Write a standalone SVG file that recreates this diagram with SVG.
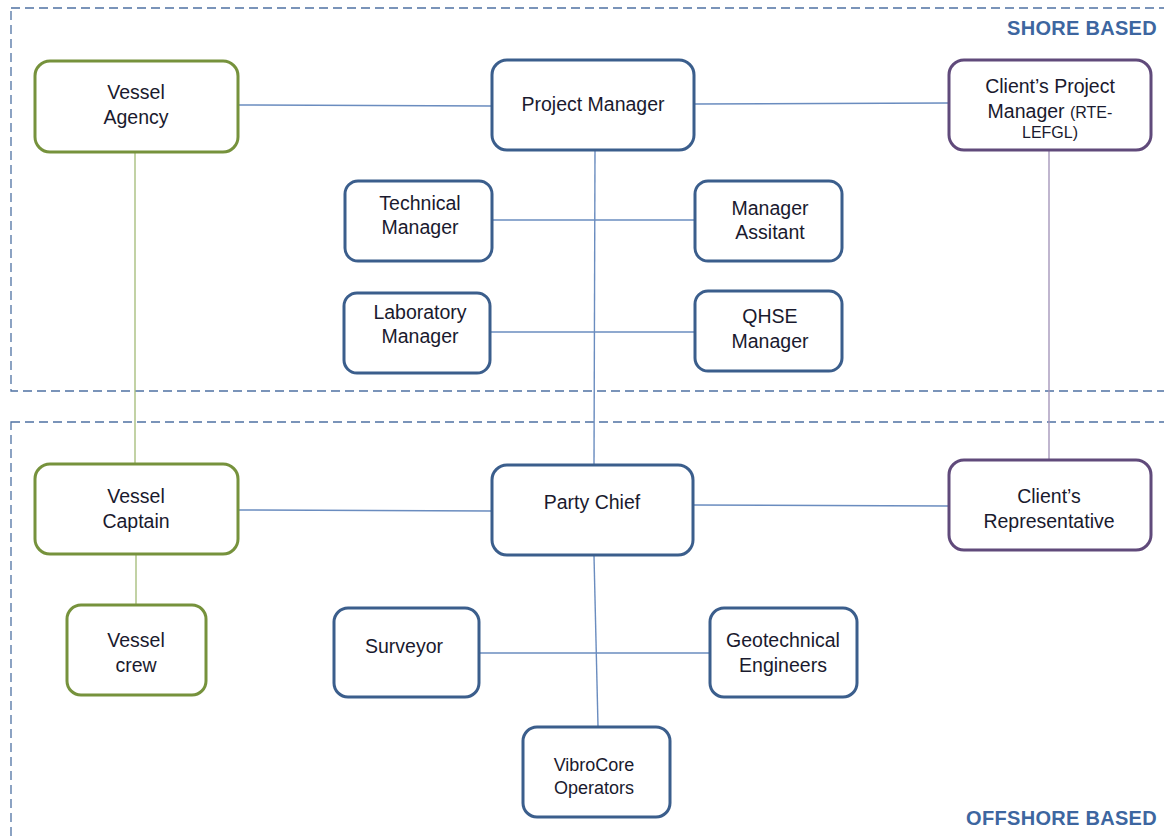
<svg xmlns="http://www.w3.org/2000/svg" width="1164" height="837" viewBox="0 0 1164 837">
<style>
.zone{fill:none;stroke:#4f72a3;stroke-width:1.3;stroke-dasharray:9 5}
.zl{font-family:"Liberation Sans",Arial,sans-serif;font-weight:bold;font-size:20px;fill:#3d66a0;text-anchor:end;letter-spacing:0.3px}
.n rect{fill:#fff;stroke-width:3}
.g rect{stroke:#76923c}
.b rect{stroke:#3b5e8c}
.p rect{stroke:#604a7b}
.n text{font-family:"Liberation Sans",Arial,sans-serif;font-size:19.5px;fill:#1a1a2e;text-anchor:middle}
.n text.s{font-size:16px}
.n text.m{font-size:18px}
.n .xs{font-size:16px}
.c line{stroke-width:1.4}
.cb{stroke:#6a8cbf}
.cg{stroke:#a8bf7f}
.cp{stroke:#a597bb}
</style>
<rect width="1164" height="837" fill="#fff"/>
<rect class="zone" x="11" y="8" width="1170" height="383"/>
<rect class="zone" x="11" y="422" width="1170" height="430"/>
<text class="zl" x="1157" y="35">SHORE  BASED</text>
<text class="zl" x="1157" y="825">OFFSHORE  BASED</text>
<g class="c" id="connectors">
<line class="cb" x1="238" y1="105" x2="491" y2="106"/>
<line class="cb" x1="695" y1="104" x2="948" y2="103"/>
<line class="cb" x1="595" y1="150" x2="594" y2="464"/>
<line class="cb" x1="493" y1="220" x2="694" y2="220"/>
<line class="cb" x1="491" y1="332" x2="694" y2="332"/>
<line class="cg" x1="135" y1="152" x2="135" y2="463"/>
<line class="cp" x1="1049" y1="150" x2="1049" y2="459"/>
<line class="cb" x1="239" y1="510" x2="491" y2="511"/>
<line class="cb" x1="694" y1="505" x2="948" y2="506"/>
<line class="cg" x1="136" y1="555" x2="136" y2="604"/>
<line class="cb" x1="594" y1="556" x2="598" y2="726"/>
<line class="cb" x1="480" y1="653" x2="709" y2="653"/>
</g>
<g id="vessel-agency" class="n g"><rect x="35" y="61" width="203" height="91" rx="15"/><text x="136" y="99">Vessel</text><text x="136" y="124">Agency</text></g>
<g id="project-manager" class="n b"><rect x="492" y="60" width="202" height="90" rx="15"/><text x="593" y="111">Project Manager</text></g>
<g id="client-pm" class="n p"><rect x="949" y="60" width="202" height="90" rx="15"/><text x="1050" y="93">Client’s Project</text><text x="1050" y="118">Manager <tspan class="xs">(RTE-</tspan></text><text class="s" x="1050" y="138">LEFGL)</text></g>
<g id="technical-manager" class="n b"><rect x="345" y="181" width="147" height="80" rx="13"/><text x="420" y="210">Technical</text><text x="420" y="234">Manager</text></g>
<g id="manager-assistant" class="n b"><rect x="695" y="181" width="147" height="80" rx="13"/><text x="770" y="215">Manager</text><text x="770" y="239">Assitant</text></g>
<g id="laboratory-manager" class="n b"><rect x="344" y="293" width="146" height="80" rx="13"/><text x="420" y="319">Laboratory</text><text x="420" y="343">Manager</text></g>
<g id="qhse-manager" class="n b"><rect x="695" y="291" width="147" height="80" rx="13"/><text x="770" y="323">QHSE</text><text x="770" y="348">Manager</text></g>
<g id="vessel-captain" class="n g"><rect x="35" y="464" width="203" height="90" rx="15"/><text x="136" y="503">Vessel</text><text x="136" y="528">Captain</text></g>
<g id="party-chief" class="n b"><rect x="492" y="465" width="201" height="90" rx="15"/><text x="592" y="509">Party Chief</text></g>
<g id="client-rep" class="n p"><rect x="949" y="460" width="202" height="90" rx="15"/><text x="1049" y="503">Client’s</text><text x="1049" y="528">Representative</text></g>
<g id="vessel-crew" class="n g"><rect x="67" y="605" width="139" height="90" rx="14"/><text x="136" y="647">Vessel</text><text x="136" y="672">crew</text></g>
<g id="surveyor" class="n b"><rect x="334" y="608" width="145" height="89" rx="14"/><text x="404" y="653">Surveyor</text></g>
<g id="geotechnical-engineers" class="n b"><rect x="710" y="608" width="147" height="89" rx="14"/><text x="783" y="647">Geotechnical</text><text x="783" y="672">Engineers</text></g>
<g id="vibrocore-operators" class="n b"><rect x="523" y="727" width="147" height="90" rx="14"/><text class="m" x="594" y="771">VibroCore</text><text class="m" x="594" y="794">Operators</text></g>
</svg>
